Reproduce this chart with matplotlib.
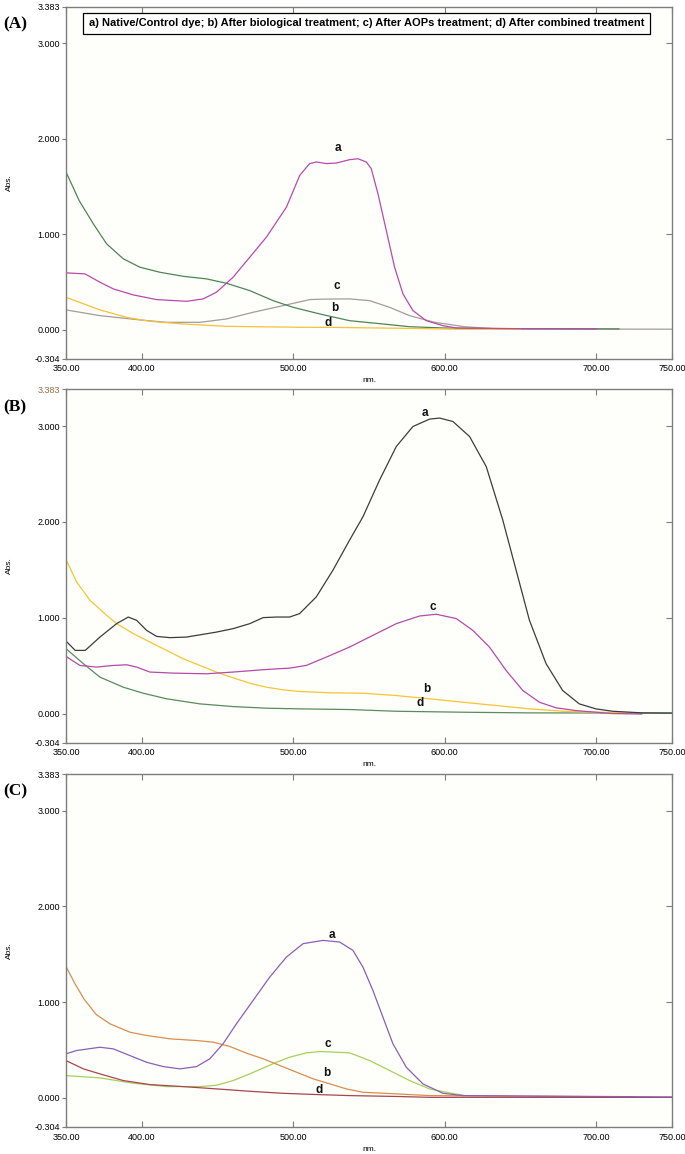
import matplotlib
matplotlib.use("Agg")
import matplotlib.pyplot as plt

plt.rcParams['font.family'] = ['Liberation Sans', 'DejaVu Sans']

# ---------------- Panel A ----------------
A_a_wl = [350, 362.5, 372.4, 381.2, 394.4, 409.8, 429.6, 440.5, 449.3, 460.3, 471.3, 482.3, 495.5, 504.3,
          510.8, 515.3, 521.9, 528.4, 537.2, 542.7, 548.2, 551.5, 555.9, 561.4, 566.9, 572.4, 579, 587.8,
          598.8, 607.6, 650, 700]
A_a_abs = [0.595, 0.584, 0.497, 0.427, 0.364, 0.315, 0.297, 0.322, 0.392, 0.549, 0.759, 0.969, 1.283, 1.616,
           1.739, 1.756, 1.739, 1.745, 1.78, 1.79, 1.756, 1.686, 1.424, 1.039, 0.654, 0.375, 0.2, 0.094,
           0.042, 0.018, 0.01, 0.008]
A_b_wl = [350, 355, 358.6, 368, 376.8, 387.8, 398.8, 412, 427.3, 442.7, 455.9, 471.3, 486.7, 499.9, 517.4,
          537.2, 559, 576.8, 598.8, 620, 715]
A_b_abs = [1.65, 1.48, 1.354, 1.109, 0.899, 0.742, 0.654, 0.601, 0.559, 0.532, 0.486, 0.409, 0.304, 0.234,
           0.165, 0.094, 0.06, 0.031, 0.018, 0.012, 0.008]
A_c_wl = [350, 372.4, 398.8, 416.4, 438.4, 455.9, 473.5, 493.3, 510.9, 520, 537.2, 550.4, 563.6, 576.8,
          593.3, 613, 636, 750]
A_c_abs = [0.207, 0.147, 0.102, 0.077, 0.077, 0.112, 0.182, 0.252, 0.315, 0.32, 0.322, 0.304, 0.234, 0.147,
           0.077, 0.031, 0.007, 0.005]
A_d_wl = [350, 361.7, 372.4, 390, 405.4, 427.4, 455.9, 504.3, 526, 583, 607.6, 650]
A_d_abs = [0.339, 0.27, 0.207, 0.129, 0.087, 0.06, 0.035, 0.025, 0.024, 0.012, 0.005, 0.004]

# ---------------- Panel B ----------------
B_a_wl = [350, 356.1, 362.7, 372.4, 383.4, 391.1, 396.6, 403.2, 409.8, 418.6, 429.6, 449.3, 460.3, 471.3,
          480.1, 488.9, 497.6, 504.2, 515.2, 526.2, 537.2, 546, 557, 568, 579, 590, 596.6, 605.4, 616.4,
          627.4, 638.3, 647.1, 655.9, 666.9, 677.8, 688.8, 699.8, 710.8, 730.6, 750]
B_a_abs = [0.756, 0.659, 0.659, 0.798, 0.938, 1.007, 0.973, 0.868, 0.805, 0.792, 0.798, 0.85, 0.886, 0.938,
           1.001, 1.007, 1.007, 1.043, 1.217, 1.496, 1.81, 2.053, 2.437, 2.786, 2.995, 3.072, 3.083, 3.047,
           2.89, 2.576, 2.019, 1.496, 0.973, 0.52, 0.241, 0.101, 0.049, 0.024, 0.007, 0.005]
B_b_wl = [350, 357, 365.8, 376.8, 383.4, 394.4, 405.4, 416.4, 427.3, 438.4, 449.3, 460.3, 471.3, 482.3,
          493.2, 504.3, 526, 546, 568, 590, 612, 634, 656, 678, 700, 722]
B_b_abs = [1.608, 1.374, 1.182, 1.025, 0.938, 0.834, 0.746, 0.659, 0.572, 0.502, 0.432, 0.373, 0.317, 0.275,
           0.248, 0.23, 0.216, 0.212, 0.188, 0.154, 0.118, 0.084, 0.049, 0.024, 0.014, 0.01]
B_c_wl = [350, 359.2, 370.2, 381.2, 390, 396.6, 405.4, 420.7, 442.7, 460.3, 482.3, 497.6, 508.6, 521.8,
          537.2, 546, 568, 583.4, 594.4, 607.6, 618.5, 629.5, 640.5, 651.5, 662.5, 673.5, 686.6, 710.8, 730]
B_c_abs = [0.596, 0.502, 0.485, 0.502, 0.509, 0.485, 0.433, 0.422, 0.415, 0.433, 0.46, 0.474, 0.502, 0.589,
           0.694, 0.764, 0.938, 1.018, 1.036, 0.991, 0.868, 0.694, 0.45, 0.241, 0.118, 0.06, 0.031, 0.0, -0.005]
B_d_wl = [350, 361.5, 372.4, 387.8, 401, 416.4, 438.4, 460.3, 482.3, 504.3, 537.2, 568, 612, 656, 750]
B_d_abs = [0.677, 0.52, 0.38, 0.275, 0.212, 0.154, 0.101, 0.073, 0.056, 0.049, 0.042, 0.024, 0.014, 0.007, 0.005]

# ---------------- Panel C ----------------
C_a_wl = [350, 357, 372.4, 381.2, 392.2, 403.2, 414.2, 425.2, 436.2, 444.9, 453.7, 462.5, 473.5, 484.5,
          495.5, 506.5, 519.7, 530.6, 539.4, 546, 552.6, 559.2, 565.8, 574.6, 585.6, 598.8, 612, 750]
C_a_abs = [0.46, 0.495, 0.529, 0.512, 0.442, 0.372, 0.327, 0.303, 0.327, 0.408, 0.565, 0.774, 1.018, 1.262,
           1.471, 1.611, 1.645, 1.628, 1.541, 1.366, 1.122, 0.843, 0.565, 0.32, 0.146, 0.048, 0.024, 0.01]
C_b_wl = [350, 356, 362, 370, 379, 392.2, 403.2, 418.6, 436.2, 447.2, 458.2, 469.2, 480.2, 491.2, 502.2,
          513.2, 524.2, 535, 546, 568, 590, 724]
C_b_abs = [1.373, 1.19, 1.03, 0.87, 0.774, 0.686, 0.652, 0.617, 0.599, 0.582, 0.537, 0.467, 0.408, 0.338,
           0.268, 0.199, 0.146, 0.094, 0.059, 0.042, 0.024, 0.01]
C_c_wl = [350, 372.4, 394.4, 416.4, 438.4, 449.3, 460.3, 471.3, 482.3, 488.9, 497.6, 508.6, 517.4, 524,
          537.2, 550.4, 563.6, 576.8, 590, 606.5, 612]
C_c_abs = [0.233, 0.209, 0.153, 0.118, 0.118, 0.132, 0.181, 0.251, 0.327, 0.372, 0.425, 0.47, 0.484, 0.48,
           0.471, 0.39, 0.286, 0.181, 0.094, 0.042, 0.03]
C_d_wl = [350, 361.5, 372.4, 387.8, 405.4, 427.3, 449.3, 471.3, 493.2, 515.3, 537.2, 568, 590, 634, 750]
C_d_abs = [0.39, 0.303, 0.251, 0.181, 0.139, 0.118, 0.094, 0.069, 0.048, 0.035, 0.024, 0.015, 0.006, 0.006, 0.005]

curve_names = ['a', 'b', 'c', 'd']
panel_labels = ['(A)', '(B)', '(C)']
legend_text = ('a) Native/Control dye; b) After biological treatment; '
               'c) After AOPs treatment; d) After combined treatment')

x_ticks = [350, 400, 500, 600, 700, 750]
x_ticklabels = ['350.00', '400.00', '500.00', '600.00', '700.00', '750.00']
y_ticks = [-0.304, 0.0, 1.0, 2.0, 3.0, 3.383]
y_ticklabels = ['-0.304', '0.000', '1.000', '2.000', '3.000', '3.383']

panels = [
    dict(curves={'a': (A_a_wl, A_a_abs), 'b': (A_b_wl, A_b_abs), 'c': (A_c_wl, A_c_abs), 'd': (A_d_wl, A_d_abs)},
         colors={'a': '#b94aa8', 'b': '#4e8453', 'c': '#a39c9c', 'd': '#f5c236'},
         labels={'a': (529.3, 1.90), 'c': (528.6, 0.46), 'b': (527.3, 0.23), 'd': (522.7, 0.07)},
         top_color='black'),
    dict(curves={'a': (B_a_wl, B_a_abs), 'b': (B_b_wl, B_b_abs), 'c': (B_c_wl, B_c_abs), 'd': (B_d_wl, B_d_abs)},
         colors={'a': '#3c3c3c', 'b': '#f7c531', 'c': '#b54aa9', 'd': '#5b8a5e'},
         labels={'a': (586.7, 3.14), 'c': (592.0, 1.11), 'b': (588.0, 0.26), 'd': (584.0, 0.105)},
         top_color='#9a6a40'),
    dict(curves={'a': (C_a_wl, C_a_abs), 'b': (C_b_wl, C_b_abs), 'c': (C_c_wl, C_c_abs), 'd': (C_d_wl, C_d_abs)},
         colors={'a': '#8b5fb3', 'b': '#d88e4e', 'c': '#a5d05a', 'd': '#a8464e'},
         labels={'a': (525.3, 1.70), 'c': (522.7, 0.56), 'b': (522.0, 0.255), 'd': (516.8, 0.087)},
         top_color='black'),
]

fig = plt.figure(figsize=(6.85, 11.54), dpi=100)
fig.patch.set_facecolor('white')

left, width = 66 / 685, 606 / 685
axes_rects = [(358.7, 352.1), (742.7, 353.4), (1127.0, 353.0)]
frame_col = '#7d7d7d'

for i, (p, (bot_px, h_px)) in enumerate(zip(panels, axes_rects)):
    ax = fig.add_axes([left, 1 - bot_px / 1154, width, h_px / 1154])
    ax.set_facecolor('#fefefb')
    for name in ['c', 'b', 'd', 'a'] if i != 1 else ['d', 'b', 'c', 'a']:
        wl, ab = p['curves'][name]
        ax.plot(wl, ab, color=p['colors'][name], lw=0.9, solid_joinstyle='round')
    for name, (lx, ly) in p['labels'].items():
        ax.text(lx, ly, name, fontsize=8.5, fontweight='bold', ha='center', va='center', color='#111111')
    ax.set_xlim(350, 750)
    ax.set_ylim(-0.304, 3.383)
    ax.set_xticks(x_ticks)
    ax.set_xticklabels(x_ticklabels)
    ax.set_yticks(y_ticks)
    ax.set_yticklabels(y_ticklabels)
    ax.get_yticklabels()[-1].set_color(p['top_color'])
    ax.tick_params(axis='x', direction='in', top=True, length=4, width=0.8, color=frame_col,
                   labelsize=6.5, pad=4)
    ax.tick_params(axis='y', direction='out', length=3, width=0.8, color=frame_col,
                   labelsize=6.5, pad=1.5)
    for s in ax.spines.values():
        s.set_color(frame_col)
        s.set_linewidth(1.0)
    axr = ax.twinx()
    axr.set_ylim(-0.304, 3.383)
    axr.set_yticks([1.0, 2.0, 3.0])
    axr.tick_params(axis='y', direction='in', length=4, width=0.8, color=frame_col, labelright=False)
    for s in axr.spines.values():
        s.set_visible(False)
    ax.set_ylabel('Abs.', fontsize=6)
    ax.yaxis.set_label_coords(-0.088, 0.5)
    ax.set_xlabel('nm.', fontsize=6, labelpad=3)
    ax.text(-0.104, 0.95, panel_labels[i], transform=ax.transAxes, fontsize=12.5,
            fontweight='bold', family='Liberation Serif', ha='left', va='center')
    if i == 0:
        ax.text(0.0375, 0.953, legend_text, transform=ax.transAxes, fontsize=8.05, fontweight='bold',
                ha='left', va='center',
                bbox=dict(boxstyle='square,pad=0.5', facecolor='white', edgecolor='black', linewidth=0.9))

fig.savefig('out.png', dpi=100)
